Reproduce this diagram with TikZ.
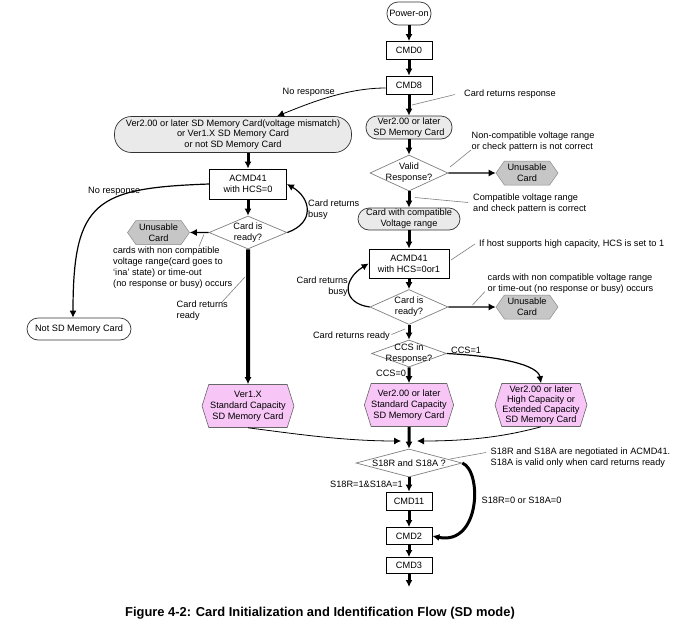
\documentclass[tikz,border=0pt]{standalone}
\usepackage{fontspec}
\setmainfont{Liberation Sans}
\usetikzlibrary{shapes.geometric}
\usetikzlibrary{shapes.symbols}
\usetikzlibrary{arrows.meta}
\definecolor{termgray}{RGB}{234,234,234}
\definecolor{deadgray}{RGB}{198,198,198}
\definecolor{cardpink}{RGB}{247,198,247}

\begin{document}
\begin{tikzpicture}[x=1pt, y=-1pt, >={Latex[length=7pt,width=7pt]},
    font=\fontsize{9.2}{10.8}\selectfont,
    cmd/.style={draw=black, line width=0.8pt, inner sep=0pt, align=center, minimum width=46pt, minimum height=18pt},
    term/.style={draw=black!80, line width=0.7pt, rectangle, rounded corners=11pt, inner sep=0pt, align=center},
    ask/.style={draw=gray, line width=0.7pt, diamond, inner sep=0pt},
    dead/.style={signal, signal to=west and east, signal pointer angle=110, fill=deadgray, draw=gray!90, line width=0.5pt, inner sep=0pt, minimum width=62pt, minimum height=24pt, align=center},
    kind/.style={signal, signal to=west and east, signal pointer angle=145, fill=cardpink, draw=black!60, line width=0.6pt, inner sep=0pt, minimum height=43pt, align=center},
    flow/.style={->, line width=3pt},
    side/.style={->, line width=1.2pt},
    lead/.style={draw=gray, line width=0.6pt},
    note/.style={inner sep=0pt, align=left}]
      \path [fill=white, use as bounding box] (0,0) rectangle (689,633);

      \node [term, minimum width=44pt, minimum height=23pt, name=power] at (409,13.5) {Power-on};
      \node [cmd, name=cmd0] at (409,50.5) {CMD0};
      \node [cmd, name=cmd8] at (409,85) {CMD8};
      \node [term, fill=termgray, minimum width=86pt, minimum height=23pt, name=ver2] at (409,127.5) {Ver2.00 or later\\SD Memory Card};
      \node [term, fill=termgray, rounded corners=17pt, minimum width=237pt, minimum height=36pt, name=mismatch] at (233,134.5)
      {Ver2.00 or later SD Memory Card(voltage mismatch)\\or Ver1.X SD Memory Card\\or not SD Memory Card};
      \node [ask, minimum width=78pt, minimum height=36pt, label={[align=center]center:Valid\\Response?}, name=valid] at (409,173) {};
      \node [dead, name=unusv] at (527,173) {Unusable\\Card};
      \node [term, fill=termgray, minimum width=102pt, minimum height=22pt, name=compat] at (409,219) {Card with compatible\\Voltage range};
      \node [cmd, minimum width=80pt, minimum height=29pt, name=acmd41b] at (409,263.5) {ACMD41\\with HCS=0or1};
      \node [ask, minimum width=78pt, minimum height=35pt, label={[align=center]center:Card is\\ready?}, name=readyb] at (409,307) {};
      \node [dead, name=unusr] at (527,307) {Unusable\\Card};
      \node [ask, minimum width=75pt, minimum height=27pt, label={[align=center]center:CCS in\\Response?}, name=ccs] at (409,353.5) {};
      \node [kind, minimum width=87pt, name=stdcap] at (409,405) {Ver2.00 or later\\Standard Capacity\\SD Memory Card};
      \node [kind, minimum width=92pt, font=\fontsize{9.2}{10}\selectfont, name=hicap] at (541,405)
      {Ver2.00 or later\\High Capacity or\\Extended Capacity\\SD Memory Card};

      \node [cmd, minimum width=77pt, minimum height=30pt, name=acmd41a] at (248,184) {ACMD41\\with HCS=0};
      \node [ask, minimum width=78pt, minimum height=33pt, label={[align=center]center:Card is\\ready?}, name=readya] at (248,232.5) {};
      \node [dead, name=unusa] at (158.5,232.5) {Unusable\\Card};
      \node [term, minimum width=104pt, minimum height=22pt, name=notsd] at (79,329) {Not SD Memory Card};
      \node [kind, minimum width=92pt, name=ver1x] at (248,406) {Ver1.X\\Standard Capacity\\SD Memory Card};

      \node [ask, minimum width=106pt, minimum height=28pt, label=center:S18R and S18A ?, name=s18] at (409,463) {};
      \node [cmd, name=cmd11] at (409,501) {CMD11};
      \node [cmd, minimum height=17pt, name=cmd2] at (409,536) {CMD2};
      \node [cmd, minimum height=16pt, name=cmd3] at (409,565.5) {CMD3};
      \coordinate (exit) at (409,587);
      \coordinate (joinl) at (401,441);
      \coordinate (joinr) at (417,441);

      \node [font=\bfseries\fontsize{12.9}{14}\selectfont, name=caption] at (320,613)
      {Figure 4-2: Card Initialization and Identification Flow (SD mode)};

      \node [note, anchor=west, name=noresp] at (282.5,92.5) {No response};
      \node [note, anchor=west, name=respnote] at (464,94.5) {Card returns response};
      \node [note, anchor=west, name=badnote] at (471.5,141.5) {Non-compatible voltage range\\or check pattern is not correct};
      \node [note, anchor=west, name=goodnote] at (473,204) {Compatible voltage range\\and check pattern is correct};
      \node [note, anchor=west, name=hcsnote] at (479,244) {If host supports high capacity, HCS is set to 1};
      \node [note, anchor=west, name=timenote] at (487.5,284) {cards with non compatible voltage range\\or time-out (no response or busy) occurs};
      \node [note, anchor=east, align=right, name=busyright] at (348,287) {Card returns\\busy};
      \node [note, anchor=east, name=readyright] at (390,336) {Card returns ready};
      \node [note, anchor=west, name=ccs0] at (376,373.5) {CCS=0};
      \node [note, anchor=west, name=ccs1] at (451,350) {CCS=1};
      \node [note, anchor=west, name=s18note] at (490.5,458) {S18R and S18A are negotiated in ACMD41.\\S18A is valid only when card returns ready};
      \node [note, anchor=east, name=s18yes] at (403,484) {S18R=1\&S18A=1};
      \node [note, anchor=west, name=s18no] at (481.5,500.5) {S18R=0 or S18A=0};
      \node [note, anchor=west, name=noresp2] at (88,191.5) {No response};
      \node [note, anchor=west, name=busyleft] at (308,210) {Card returns\\busy};
      \node [note, anchor=west, name=inanote] at (113,267.5)
      {cards with non compatible\\voltage range(card goes to\\`ina' state) or time-out\\(no response or busy) occurs};
      \node [note, anchor=west, name=readyleft] at (176.5,311) {Card returns\\ready};

      \draw [flow] (power) -- (cmd0);
      \draw [flow] (cmd0) -- (cmd8);
      \draw [flow] (cmd8) -- (ver2);
      \draw [flow] (ver2) -- (valid);
      \draw [flow] (valid) -- (compat);
      \draw [flow] (compat) -- (acmd41b);
      \draw [flow] (acmd41b) -- (readyb);
      \draw [flow] (readyb) -- (ccs);
      \draw [flow] (ccs) -- (stdcap);
      \draw [flow] (stdcap) -- (s18);
      \draw [flow] (s18) -- (cmd11);
      \draw [flow] (cmd11) -- (cmd2);
      \draw [flow] (cmd2) -- (cmd3);
      \draw [flow] (cmd3) -- (exit);
      \draw [flow] (acmd41a |- mismatch.south) -- (acmd41a);
      \draw [flow] (acmd41a) -- (readya);
      \draw [flow, line width=4pt] (readya) -- (ver1x);

      \draw [side] (valid) -- (unusv);
      \draw [side] (readyb) -- (unusr);
      \draw [side] (readya) -- (unusa);

      \draw [->, line width=0.8pt] ([yshift=-3pt]cmd8.west) .. controls +(-40,0) and +(30,-12) .. ([xshift=44pt]mismatch.north);
      \draw [->, line width=1.2pt] (acmd41a.west) .. controls +(-113,4) and +(0,-117) .. ([xshift=-6pt]notsd.north);
      \draw [->, line width=1.2pt] (readya.east) .. controls +(28,-10) and +(24,14) .. (acmd41a.east);
      \draw [->, line width=1.2pt] (readyb.west) .. controls +(-28,-4) and +(-26,16) .. (acmd41b.west);
      \draw [->, line width=1.2pt] (ccs.east) .. controls +(55,3) and +(-3,-18) .. (hicap.north);
      \draw [->, line width=0.8pt] (ver1x.south) .. controls +(40,5) and +(-60,0) .. (joinl);
      \draw [->, line width=0.8pt] (hicap.south) .. controls +(-30,8) and +(60,0) .. (joinr);
      \draw [->, line width=3pt] (s18.east) .. controls +(20,8) and +(48,10) .. (cmd2.east);

      \draw [lead] (412,105) -- ([xshift=-9pt]respnote.west);
      \draw [lead] (450,167) -- (471,150);
      \draw [lead] (415,197.5) -- (468,202.5);
      \draw [lead] (451,260) -- (475,244);
      \draw [lead] (472.5,305) -- (485,291.5);
      \draw [lead] (405,329) -- (391.5,334.5);
      \draw [lead] (450,459) -- (486,452.5);
      \draw [lead] (204,234.5) -- (199,246.5);
      \draw [lead] (245,277) -- (222,302);

    \end{tikzpicture}
\end{document}
